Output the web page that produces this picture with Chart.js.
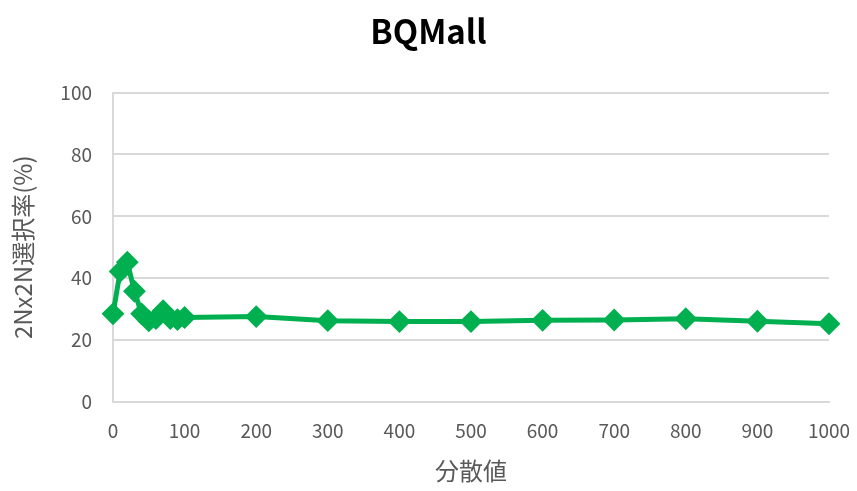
<!DOCTYPE html>
<html>
<head>
<meta charset="utf-8">
<script src="https://cdn.jsdelivr.net/npm/chart.js@4.4.1/dist/chart.umd.min.js"></script>
<style>
  html, body { margin: 0; padding: 0; background: #fff; }
  #wrap { width: 857px; height: 491px; }
</style>
</head>
<body>
<div id="wrap"><canvas id="chart" width="857" height="491"></canvas></div>
<script>
// variance values and 2Nx2N selection rate (%)
const variance = [0, 10, 20, 30, 40, 50, 60, 70, 80, 90, 100, 200, 300, 400, 500, 600, 700, 800, 900, 1000];
const rate = [28.5, 42.2, 45.2, 35.8, 28.5, 26.2, 27.0, 29.5, 27.0, 26.6, 27.3, 27.6, 26.3, 26.0, 26.0, 26.4, 26.5, 26.9, 26.1, 25.3];

const titleText = "BQMall";
const xTitle = "分散値";
const yTitle = "2Nx2N選択率(%)";

const green = "#00b050";
const gray = "#595959";
const gridColor = "#d9d9d9";
const jpFont = "'Noto Sans CJK JP', 'Noto Sans', sans-serif";

const points = variance.map((v, i) => ({ x: v, y: rate[i] }));

new Chart(document.getElementById("chart").getContext("2d"), {
    type: "scatter",
    data: {
        datasets: [{
            data: points,
            showLine: true,
            clip: false,
            borderColor: green,
            backgroundColor: green,
            borderWidth: 5,
            pointStyle: "rectRot",
            pointRadius: 10,
            pointBorderWidth: 2,
            pointBorderColor: green,
            pointBackgroundColor: green
        }]
    },
    options: {
        responsive: false,
        animation: false,
        // symmetric side padding keeps the title centred on the canvas
        layout: { autoPadding: false, padding: { left: 28, right: 28, top: 0, bottom: 0 } },
        plugins: {
            legend: { display: false },
            tooltip: { enabled: false },
            title: {
                display: true,
                text: titleText,
                color: "#000",
                font: { family: jpFont, size: 33, weight: "bold" },
                padding: { top: 12, bottom: 41 }
            }
        },
        scales: {
            x: {
                type: "linear",
                min: 0,
                max: 1000,
                ticks: {
                    stepSize: 100,
                    color: gray,
                    font: { family: jpFont, size: 19 },
                    padding: 17,
                    maxRotation: 0,
                    callback: (v) => String(v)
                },
                grid: { display: false, drawTicks: false },
                border: { display: true, color: gridColor, width: 2 },
                title: { display: true, text: xTitle, color: gray, font: { family: jpFont, size: 24 }, padding: { top: 0, bottom: 6 } },
                afterFit: (s) => {
                    s.height = 89;
                    // end labels may hang into the side padding
                    s.paddingLeft = 0;
                    s.paddingRight = 0;
                }
            },
            y: {
                min: 0,
                max: 100,
                ticks: { stepSize: 20, color: gray, font: { family: jpFont, size: 19 }, padding: 21 },
                grid: { color: gridColor, lineWidth: 2, drawTicks: false },
                border: { display: true, color: gridColor, width: 2 },
                title: { display: true, text: yTitle, color: gray, font: { family: jpFont, size: 24 }, padding: { top: -20, bottom: 0 } },
                afterFit: (s) => { s.width = 85; }
            }
        }
    }
});
</script>
</body>
</html>
